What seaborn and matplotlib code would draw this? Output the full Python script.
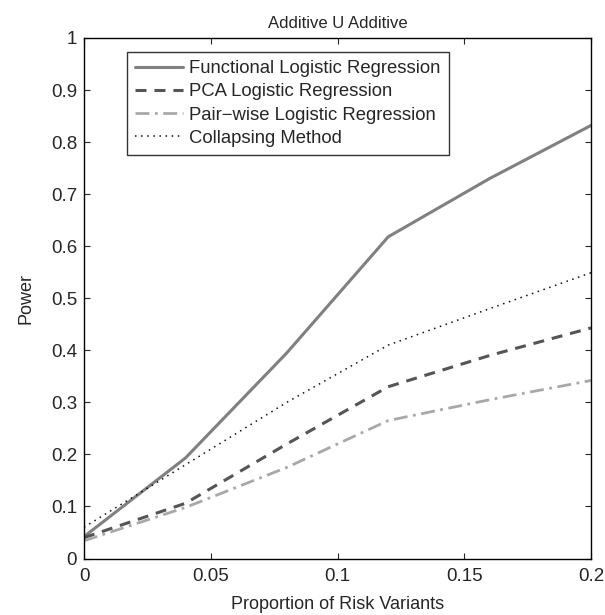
import matplotlib
matplotlib.use("Agg")
import matplotlib.pyplot as plt
import seaborn as sns
import pandas as pd

x_vals = [0, 0.04, 0.08, 0.12, 0.16, 0.2]
functional = [0.042, 0.193, 0.395, 0.618, 0.73, 0.832]
pca = [0.04, 0.106, 0.22, 0.33, 0.39, 0.443]
pairwise = [0.034, 0.098, 0.175, 0.265, 0.305, 0.342]
collapsing = [0.06, 0.18, 0.30, 0.41, 0.48, 0.549]
names = ["Functional Logistic Regression", "PCA Logistic Regression",
         "Pair\u2212wise Logistic Regression", "Collapsing Method"]
x_ticks = [0, 0.05, 0.1, 0.15, 0.2]
x_tick_labels = ["0", "0.05", "0.1", "0.15", "0.2"]
y_ticks = [0, 0.1, 0.2, 0.3, 0.4, 0.5, 0.6, 0.7, 0.8, 0.9, 1]
y_tick_labels = ["0", "0.1", "0.2", "0.3", "0.4", "0.5", "0.6", "0.7", "0.8", "0.9", "1"]

sns.set_style("white")
plt.rcParams['font.family'] = ['Liberation Sans', 'DejaVu Sans']

rows = []
for n, ys in zip(names, [functional, pca, pairwise, collapsing]):
    for xv, yv in zip(x_vals, ys):
        rows.append({"x": xv, "y": yv, "method": n})
df = pd.DataFrame(rows)

fig = plt.figure(figsize=(6.05, 6.15), dpi=100)
ax = fig.add_axes([84/605, 1-558.5/615, (591-84)/605, (558.5-38)/615])

styles = {
    names[0]: dict(color="#808080", lw=2.2, ls="-"),
    names[1]: dict(color="#555555", lw=2.2, ls=(0, (3.6, 2.6))),
    names[2]: dict(color="#a8a8a8", lw=2.0, ls=(0, (5, 2, 1, 2))),
    names[3]: dict(color="#111111", lw=1.1, ls=(0, (1, 3))),
}
for n in names:
    sub = df[df.method == n]
    sns.lineplot(data=sub, x="x", y="y", ax=ax, label=n, **styles[n])

ax.set_xlim(0, 0.2)
ax.set_ylim(0, 1)
ax.set_xticks(x_ticks)
ax.set_xticklabels(x_tick_labels)
ax.set_yticks(y_ticks)
ax.set_yticklabels(y_tick_labels)
ax.tick_params(direction="in", length=4, labelsize=13.5, top=True, right=True,
               bottom=True, left=True, pad=5, width=0.8)
ax.tick_params(axis="x", pad=7)
for s in ax.spines.values():
    s.set_color("black")
    s.set_linewidth(1.0)
ax.set_title("Additive U Additive", fontsize=12, pad=7)
ax.set_xlabel("Proportion of Risk Variants", fontsize=13, labelpad=8)
ax.set_ylabel("Power", fontsize=13, labelpad=12)

leg = ax.legend(loc="upper left", bbox_to_anchor=(0.085, 0.973), fontsize=13.3,
                frameon=True, fancybox=False, edgecolor="black", handlelength=2.6,
                borderpad=0.45, labelspacing=0.33, handletextpad=0.3,
                borderaxespad=0)
leg.get_frame().set_linewidth(1.0)

fig.savefig("out.png", dpi=100)
